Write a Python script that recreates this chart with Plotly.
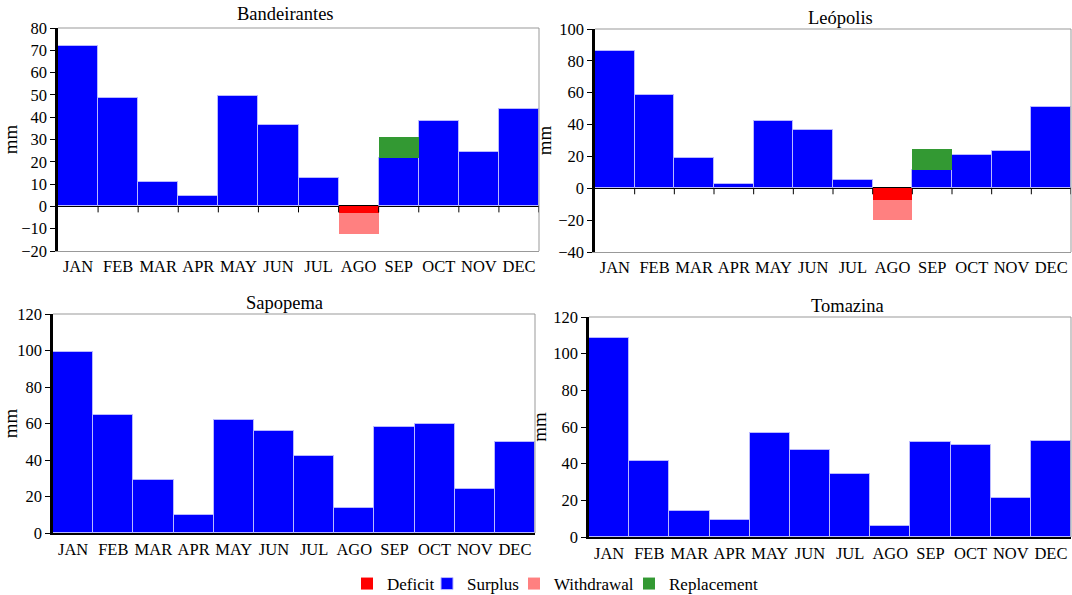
import plotly.graph_objects as go

W, H = 1072, 595

months = ["JAN", "FEB", "MAR", "APR", "MAY", "JUN", "JUL", "AGO", "SEP", "OCT", "NOV", "DEC"]

# Monthly water balance components (mm) per station
band_surplus = [72, 48.7, 11.1, 4.5, 49.5, 36.5, 12.9, None, 21.5, 38.4, 24.5, 43.8]
band_deficit = [None, None, None, None, None, None, None, -3.0, None, None, None, None]
band_withdrawal = [None, None, None, None, None, None, None, -9.3, None, None, None, None]
band_replacement = [None, None, None, None, None, None, None, None, 9.5, None, None, None]

leo_surplus = [86.4, 58.4, 19.0, 2.7, 42.0, 36.4, 5.2, None, 11.5, 20.9, 23.4, 50.8]
leo_deficit = [None, None, None, None, None, None, None, -7.3, None, None, None, None]
leo_withdrawal = [None, None, None, None, None, None, None, -12.4, None, None, None, None]
leo_replacement = [None, None, None, None, None, None, None, None, 13.0, None, None, None]

sap_surplus = [99.0, 64.4, 29.0, 9.9, 62.1, 55.7, 42.0, 13.7, 57.9, 59.9, 24.1, 49.6]
tom_surplus = [108.5, 41.6, 14.4, 9.1, 56.9, 47.6, 34.1, 6.2, 52.0, 50.0, 21.5, 52.5]

stations = ["Bandeirantes", "Leópolis", "Sapopema", "Tomazina"]
y_ranges = [[-20, 80], [-40, 100], [0, 120], [0, 120]]
y_dticks = [10, 20, 20, 20]

COLORS = {"Deficit": "#FF0000", "Surplus": "#0000FF",
          "Withdrawal": "#FF8080", "Replacement": "#339933"}

series = [
    {"Deficit": band_deficit, "Surplus": band_surplus,
     "Withdrawal": band_withdrawal, "Replacement": band_replacement},
    {"Deficit": leo_deficit, "Surplus": leo_surplus,
     "Withdrawal": leo_withdrawal, "Replacement": leo_replacement},
    {"Surplus": sap_surplus},
    {"Surplus": tom_surplus},
]

# Plot areas in pixels: (left, right, top, bottom)
boxes = [(58, 539, 28, 251), (595, 1071, 29, 252), (53, 535, 314, 533), (589, 1071, 317, 537)]
title_x = [285, 840, 284, 847]
title_y = [14, 18, 303, 306]

SERIF = "Liberation Serif"

order = ["Deficit", "Surplus", "Withdrawal", "Replacement"]
# one compact legend box per component, placed along the bottom
legend_ids = ["legend", "legend2", "legend3", "legend4"]
legend_left_px = [347, 427, 514, 629]

fig = go.Figure()
shapes = []
annotations = []
shown = set()

for i, st in enumerate(stations):
    n = i + 1
    xa = "x" if n == 1 else f"x{n}"
    ya = "y" if n == 1 else f"y{n}"
    for j, name in enumerate(order):
        vals = series[i].get(name)
        if vals is None:
            vals = [None] * len(months)
        outline = (dict(color="rgba(185,185,255,1)", width=1) if name == "Surplus"
                   else dict(width=0))
        fig.add_trace(go.Bar(
            x=months, y=vals, name=name, xaxis=xa, yaxis=ya,
            marker=dict(color=COLORS[name], line=outline),
            legendgroup=name, legend=legend_ids[j], showlegend=(name not in shown),
        ))
        shown.add(name)

    l, r, t, b = boxes[i]
    lo, hi = y_ranges[i]
    bottom_black = lo == 0
    fig.layout[f"xaxis{'' if n == 1 else n}"] = dict(
        domain=[l / W, r / W], anchor=ya, type="category", automargin=False,
        categoryorder="array", categoryarray=months, range=[-0.5, len(months) - 0.5],
        showline=True, linecolor="black" if bottom_black else "#999999",
        linewidth=1.5 if bottom_black else 1,
        ticks="", showgrid=False, zeroline=False,
        tickfont=dict(family=SERIF, size=16.5, color="black"),
    )
    fig.layout[f"yaxis{'' if n == 1 else n}"] = dict(
        domain=[1 - b / H, 1 - t / H], anchor=xa, range=[lo, hi], automargin=False,
        dtick=y_dticks[i], tick0=0,
        showline=True, linecolor="black", linewidth=2.5,
        ticks="outside", ticklen=5, tickcolor="black", tickwidth=1.2,
        showgrid=False, zeroline=not bottom_black, zerolinecolor="black", zerolinewidth=1.5,
        tickfont=dict(family=SERIF, size=16.5, color="black"),
        title=dict(text="mm", font=dict(family=SERIF, size=19, color="black"), standoff=2),
    )
    # gray frame on top and right
    shapes.append(dict(type="line", xref=f"{xa} domain", yref=f"{ya} domain",
                       x0=0, x1=1, y0=1, y1=1, line=dict(color="#999999", width=1)))
    shapes.append(dict(type="line", xref=f"{xa} domain", yref=f"{ya} domain",
                       x0=1, x1=1, y0=0, y1=1, line=dict(color="#999999", width=1)))
    # month boundary ticks hanging from the zero line
    for k in range(len(months)):
        shapes.append(dict(type="line", xref=xa, yref=ya, ysizemode="pixel", yanchor=0,
                           x0=k + 0.5, x1=k + 0.5, y0=0, y1=-6,
                           line=dict(color="black", width=1)))
    annotations.append(dict(text=st, x=title_x[i] / W, y=1 - title_y[i] / H,
                            xref="paper", yref="paper", showarrow=False,
                            xanchor="center", yanchor="middle",
                            font=dict(family=SERIF, size=18.5, color="black")))

fig.update_layout(
    width=W, height=H, margin=dict(l=0, r=0, t=0, b=0, autoexpand=False),
    paper_bgcolor="white", plot_bgcolor="white",
    barmode="relative", bargap=0,
    font=dict(family=SERIF, color="black"),
    shapes=shapes, annotations=annotations,
)
for lid, lx in zip(legend_ids, legend_left_px):
    fig.layout[lid] = dict(
        orientation="h", x=lx / W, y=1 - 584 / H, xanchor="left", yanchor="middle",
        font=dict(family=SERIF, size=17, color="black"),
        itemwidth=30, bgcolor="rgba(0,0,0,0)",
    )

fig.write_html("out.html")
